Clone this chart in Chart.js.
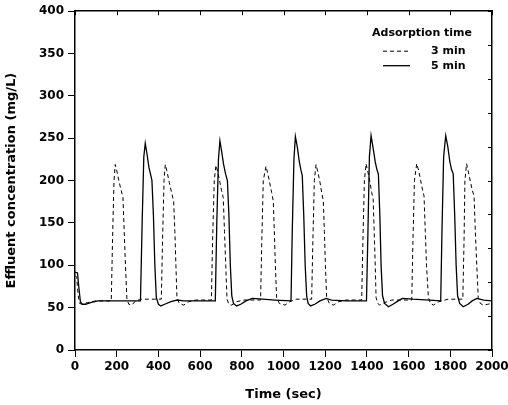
<!DOCTYPE html>
<html>
<head>
<meta charset="utf-8">
<script src="https://cdn.jsdelivr.net/npm/chart.js@4/dist/chart.umd.min.js"></script>
<style>
  html, body { margin: 0; padding: 0; background: #fff; }
</style>
</head>
<body>
<canvas id="effluentChart" width="508" height="405"></canvas>
<script>
"use strict";

// Adsorption time 3 min (dashed)
const time3 = [0, 8, 15, 22, 35, 60, 100, 174, 180, 187, 193, 202, 212, 222, 230, 236, 242, 249, 258, 273, 290, 320, 380,
  414, 420, 427, 433, 442, 452, 463, 473, 479, 484, 489, 500, 521, 545, 580,
  654, 660, 668, 676, 685, 695, 703, 711, 717, 723, 729, 738, 752, 775, 810,
  890, 896, 903, 916, 925, 935, 943, 951, 956, 961, 967, 980, 1007, 1030, 1060,
  1135, 1141, 1148, 1156, 1165, 1175, 1183, 1191, 1196, 1201, 1207, 1220, 1239, 1265, 1300,
  1375, 1381, 1388, 1396, 1405, 1415, 1423, 1430, 1435, 1440, 1444, 1452, 1462, 1485, 1520,
  1615, 1621, 1628, 1639, 1648, 1658, 1666, 1674, 1680, 1686, 1695, 1705, 1719, 1745, 1790,
  1860, 1866, 1870, 1878, 1887, 1897, 1906, 1914, 1920, 1927, 1934, 1944, 1958, 1980, 2000];
const conc3 = [88, 86, 65, 55, 54, 56, 58, 58, 130, 200, 219, 210, 198, 188, 180, 140, 100, 60, 54, 53, 58, 60, 60,
  60, 130, 200, 219, 210, 198, 186, 176, 140, 100, 62, 55, 53, 57, 59,
  59, 130, 200, 218, 210, 198, 188, 180, 140, 100, 60, 54, 53, 57, 59,
  59, 130, 200, 217, 208, 196, 186, 176, 140, 100, 62, 55, 53, 57, 60,
  60, 130, 200, 219, 210, 198, 186, 176, 140, 100, 62, 55, 53, 57, 59,
  59, 130, 200, 220, 210, 198, 186, 178, 140, 100, 62, 55, 53, 56, 59,
  59, 130, 200, 220, 212, 200, 190, 182, 140, 100, 62, 55, 53, 57, 60,
  60, 130, 200, 220, 210, 198, 188, 182, 140, 100, 62, 55, 53, 54, 55];

// Adsorption time 5 min (solid)
const time5 = [0, 12, 18, 26, 35, 50, 75, 110, 200, 314, 322, 330, 337, 345, 355, 362, 369, 376, 383, 390, 400, 412, 430, 460, 490, 520, 600,
  673, 680, 688, 695, 703, 712, 722, 731, 738, 745, 752, 760, 775, 795, 820, 850, 900, 960,
  1036, 1042, 1050, 1057, 1066, 1076, 1084, 1090, 1097, 1104, 1111, 1118, 1130, 1150, 1175, 1205, 1230, 1300,
  1398, 1405, 1412, 1420, 1430, 1440, 1448, 1455, 1462, 1468, 1475, 1485, 1503, 1525, 1550, 1570, 1620, 1700,
  1754, 1760, 1768, 1778, 1788, 1798, 1806, 1814, 1821, 1828, 1835, 1845, 1862, 1885, 1905, 1927, 1960, 2000];
const conc5 = [92, 91, 75, 57, 54, 54, 56, 58, 58, 58, 150, 228, 244, 232, 215, 208, 200, 160, 100, 62, 54, 52, 54, 57, 59, 58, 58,
  58, 150, 225, 247, 235, 220, 208, 200, 160, 100, 64, 55, 52, 54, 58, 61, 60, 59,
  58, 140, 225, 252, 240, 222, 212, 206, 160, 100, 64, 55, 52, 54, 58, 61, 59, 58,
  58, 140, 228, 253, 238, 222, 213, 208, 160, 100, 64, 55, 51, 54, 58, 61, 60, 59,
  58, 140, 228, 253, 240, 222, 213, 208, 160, 100, 64, 55, 51, 54, 58, 61, 59, 58];

// Tick labels
const xTicks = [0, 200, 400, 600, 800, 1000, 1200, 1400, 1600, 1800, 2000];
const yTicks = [0, 50, 100, 150, 200, 250, 300, 350, 400];
const frameTicks = [0, 1, 2, 3, 4, 5, 6, 7, 8, 9, 10];

const seriesLabels = ["3 min", "5 min"];
const legendTitle = "Adsorption time";

const FONT = "DejaVu Sans";

const toPoints = (xs, ys) => xs.map((x, i) => ({ x: x, y: ys[i] }));

// inward ticks on top and right frame
const frameTicksPlugin = {
  id: "frameTicks",
  afterDraw(chart) {
    const { ctx, chartArea: area, scales } = chart;
    ctx.save();
    ctx.strokeStyle = "#000";
    ctx.lineWidth = 1;
    ctx.beginPath();
    scales.xTop.ticks.forEach((t) => {
      const px = Math.round(scales.xTop.getPixelForValue(t.value)) + 0.5;
      ctx.moveTo(px, area.top);
      ctx.lineTo(px, area.top + 4);
    });
    scales.yRight.ticks.forEach((t) => {
      const py = Math.round(scales.yRight.getPixelForValue(t.value)) + 0.5;
      ctx.moveTo(area.right, py);
      ctx.lineTo(area.right - 4, py);
    });
    ctx.stroke();
    ctx.restore();
  },
};

// legend in the upper right corner
const legendPlugin = {
  id: "cornerLegend",
  afterDraw(chart) {
    const { ctx, chartArea: area } = chart;
    const left = area.right - 120;
    ctx.save();
    ctx.fillStyle = "#000";
    ctx.font = "bold 11px '" + FONT + "'";
    ctx.textBaseline = "middle";
    ctx.fillText(legendTitle, left, area.top + 22);
    chart.data.datasets.forEach((ds, i) => {
      const y = area.top + 40 + i * 14.5;
      ctx.beginPath();
      ctx.strokeStyle = "#000";
      ctx.lineWidth = ds.borderWidth;
      ctx.setLineDash(ds.borderDash || []);
      ctx.moveTo(left + 11, y);
      ctx.lineTo(left + 38, y);
      ctx.stroke();
      ctx.setLineDash([]);
      ctx.fillText(seriesLabels[i], left + 59, y);
    });
    ctx.restore();
  },
};

const tickFont = { family: FONT, size: 12, weight: "bold" };
const titleFont = { family: FONT, size: 13, weight: "bold" };

new Chart(document.getElementById("effluentChart"), {
  type: "line",
  data: {
    datasets: [
      {
        label: seriesLabels[0],
        data: toPoints(time3, conc3),
        borderColor: "#000",
        borderWidth: 1,
        borderDash: [4, 3],
        pointRadius: 0,
        tension: 0,
        fill: false,
      },
      {
        label: seriesLabels[1],
        data: toPoints(time5, conc5),
        borderColor: "#000",
        borderWidth: 1.3,
        pointRadius: 0,
        tension: 0,
        fill: false,
      },
    ],
  },
  options: {
    responsive: false,
    animation: false,
    layout: { padding: { top: 11, right: 16, bottom: 0, left: 0 } },
    plugins: {
      legend: { display: false },
      tooltip: { enabled: false },
    },
    scales: {
      x: {
        type: "linear",
        position: "bottom",
        min: 0,
        max: 2000,
        afterBuildTicks: (axis) => {
          axis.ticks = xTicks.map((v) => ({ value: v }));
        },
        afterFit: (scale) => {
          scale.height = 55;
          scale.paddingLeft = 0;
          scale.paddingRight = 0;
        },
        border: { display: true, color: "#000", width: 1.5 },
        grid: { drawOnChartArea: false, drawTicks: true, tickLength: 7, color: "#000", lineWidth: 1 },
        ticks: {
          color: "#000",
          font: tickFont,
          padding: 3,
          maxRotation: 0,
          autoSkip: false,
          callback: (value) => String(value),
        },
        title: { display: true, text: "Time (sec)", color: "#000", font: titleFont, padding: { top: 0, bottom: 3 } },
      },
      y: {
        type: "linear",
        position: "left",
        min: 0,
        max: 400,
        afterBuildTicks: (axis) => {
          axis.ticks = yTicks.map((v) => ({ value: v }));
        },
        afterFit: (scale) => {
          scale.width = 75;
        },
        border: { display: true, color: "#000", width: 1.5 },
        grid: { drawOnChartArea: false, drawTicks: true, tickLength: 7, color: "#000", lineWidth: 1 },
        ticks: { color: "#000", font: tickFont, padding: 4, callback: (value) => String(value) },
        title: { display: true, text: "Effluent concentration (mg/L)", color: "#000", font: titleFont, padding: { top: 4, bottom: 0 } },
      },
      xTop: {
        type: "linear",
        position: "top",
        min: 0,
        max: 2000,
        afterBuildTicks: (axis) => {
          axis.ticks = xTicks.map((v) => ({ value: v }));
        },
        afterFit: (scale) => {
          scale.height = 0;
          scale.paddingLeft = 0;
          scale.paddingRight = 0;
        },
        border: { display: true, color: "#000", width: 1.5 },
        grid: { display: false },
        ticks: { display: false },
      },
      yRight: {
        type: "linear",
        position: "right",
        min: 0,
        max: 10,
        afterBuildTicks: (axis) => {
          axis.ticks = frameTicks.map((v) => ({ value: v }));
        },
        afterFit: (scale) => {
          scale.width = 0;
        },
        border: { display: true, color: "#000", width: 1.5 },
        grid: { display: false },
        ticks: { display: false },
      },
    },
  },
  plugins: [frameTicksPlugin, legendPlugin],
});
</script>
</body>
</html>
